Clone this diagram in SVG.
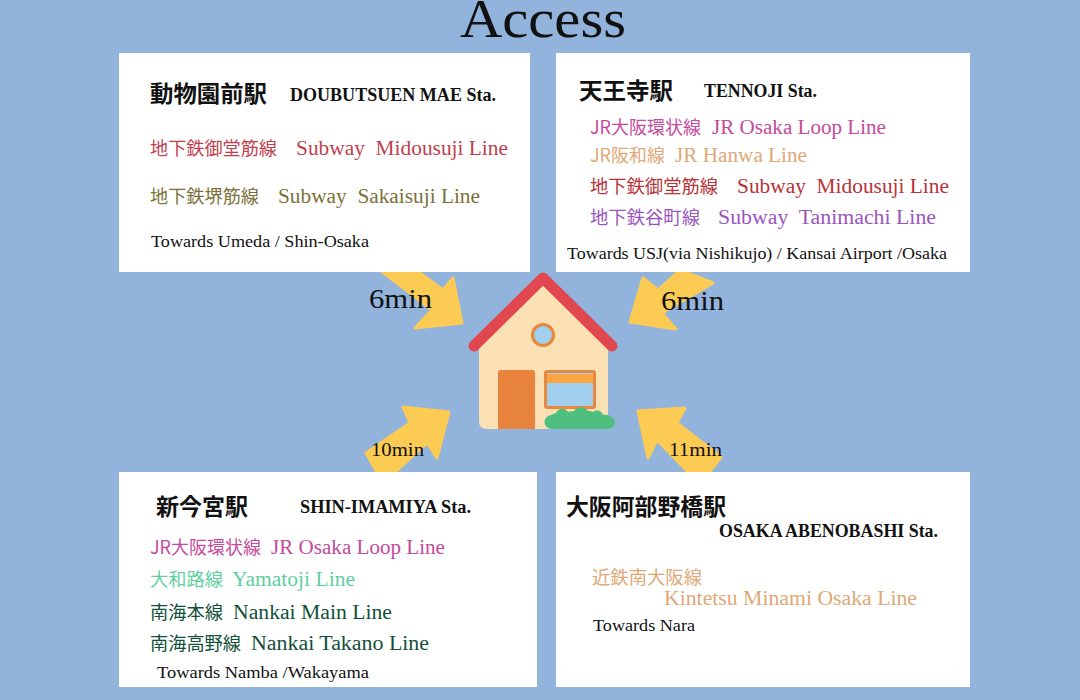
<svg xmlns="http://www.w3.org/2000/svg" width="1080" height="700" viewBox="0 0 1080 700">
<style>
text{font-family:"Liberation Serif","Noto Sans CJK JP",serif;fill:#111}
.jp{font-family:"Noto Sans CJK JP",sans-serif;font-size:18px;transform:translateX(-1px)}
.en{font-size:20px}
.hj{font-family:"Noto Sans CJK JP",sans-serif;font-size:23px;font-weight:700;transform:translateX(-1px)}
.he{font-size:18px;font-weight:700}
.to{font-size:16px}
.card{fill:#fff}
.arrow{fill:#fccb54;stroke:#fccb54;stroke-width:3;stroke-linejoin:round}
.red{fill:#bf3f50}.ol{fill:#7a7238}.pk{fill:#c44a9c}.or{fill:#e0a877}.rd{fill:#b83238}.pu{fill:#9a55bd}.gn{fill:#5fcfa0}.dg{fill:#12503a}
</style>
<rect width="1080" height="700" fill="#92b4dc"/>
<g id="connectors">
<polygon class="arrow" points="380,270 416,270 443,290 453,278 462,323 415,328 432,310"/>
<polygon class="arrow" points="680,270 713,283 662,313 676,329 630,322 643,278 658,290"/>
<polygon class="arrow" points="449,412 403,407 410,423 366,453 378,474 393,474 427,443 437,458"/>
<polygon class="arrow" points="638,411 685,408 677,423 721,457 708,474 690,474 657,440 648,458"/>
</g>
<g id="house">
<path d="M479 335L543 285L608 335V422a7 7 0 0 1-7 7H486a7 7 0 0 1-7-7Z" fill="#fae0b2"/>
<path d="M474 346L543 278L612 346" fill="none" stroke="#e0474f" stroke-width="11" stroke-linecap="round" stroke-linejoin="round"/>
<circle cx="543" cy="335" r="10.5" fill="#a2cfee" stroke="#e8883f" stroke-width="3"/>
<path d="M498 373a3 3 0 0 1 3-3h31a3 3 0 0 1 3 3v56h-37Z" fill="#e8833c"/>
<rect x="544" y="370" width="52" height="39" rx="3" fill="#e8883f"/>
<rect x="547" y="373" width="46" height="33" fill="#a2cfee"/>
<rect x="547" y="374" width="46" height="9" fill="#f9a544"/>
<path d="M552 429a7 7 0 0 1-1-14c2-1 4-2 5-2c2-5 9-6 12-1c3-1 5-1 6-1c3-5 11-5 14 0c2 0 4 0 5 1c4-3 9-1 10 3c8-1 12 4 12 7c0 4-3 7-7 7Z" fill="#4fbf7f"/>
</g>
<g id="station-doubutsuen">
<rect class="card" x="119" y="53" width="411" height="219"/>
<text class="hj" x="151" y="102" textLength="117" lengthAdjust="spacingAndGlyphs">動物園前駅</text>
<text class="he" x="290" y="101" textLength="206" lengthAdjust="spacingAndGlyphs">DOUBUTSUEN MAE Sta.</text>
<text class="jp red" x="151" y="155" textLength="127" lengthAdjust="spacingAndGlyphs">地下鉄御堂筋線</text>
<text class="en red" x="296" y="155" textLength="212" lengthAdjust="spacingAndGlyphs" xml:space="preserve">Subway  Midousuji Line</text>
<text class="jp ol" x="151" y="203" textLength="109" lengthAdjust="spacingAndGlyphs">地下鉄堺筋線</text>
<text class="en ol" x="278" y="203" textLength="202" lengthAdjust="spacingAndGlyphs" xml:space="preserve">Subway  Sakaisuji Line</text>
<text class="to" x="151" y="247" textLength="218" lengthAdjust="spacingAndGlyphs">Towards Umeda / Shin-Osaka</text>
</g>
<g id="station-tennoji">
<rect class="card" x="556" y="53" width="414" height="219"/>
<text class="hj" x="580" y="99" textLength="94" lengthAdjust="spacingAndGlyphs">天王寺駅</text>
<text class="he" x="704" y="97" textLength="113" lengthAdjust="spacingAndGlyphs">TENNOJI Sta.</text>
<text class="jp pk" x="591" y="134" textLength="111" lengthAdjust="spacingAndGlyphs">JR大阪環状線</text>
<text class="en pk" x="712" y="134" textLength="174" lengthAdjust="spacingAndGlyphs">JR Osaka Loop Line</text>
<text class="jp or" x="591" y="162" textLength="75" lengthAdjust="spacingAndGlyphs">JR阪和線</text>
<text class="en or" x="675" y="162" textLength="132" lengthAdjust="spacingAndGlyphs">JR Hanwa Line</text>
<text class="jp rd" x="591" y="193" textLength="128" lengthAdjust="spacingAndGlyphs">地下鉄御堂筋線</text>
<text class="en rd" x="737" y="193" textLength="212" lengthAdjust="spacingAndGlyphs" xml:space="preserve">Subway  Midousuji Line</text>
<text class="jp pu" x="591" y="224" textLength="110" lengthAdjust="spacingAndGlyphs">地下鉄谷町線</text>
<text class="en pu" x="718" y="224" textLength="218" lengthAdjust="spacingAndGlyphs" xml:space="preserve">Subway  Tanimachi Line</text>
<text class="to" x="567" y="259" textLength="380" lengthAdjust="spacingAndGlyphs">Towards USJ(via Nishikujo) / Kansai Airport /Osaka</text>
</g>
<g id="station-shin-imamiya">
<rect class="card" x="119" y="472" width="418" height="215"/>
<text class="hj" x="157" y="515" textLength="92" lengthAdjust="spacingAndGlyphs">新今宮駅</text>
<text class="he" x="300" y="513" textLength="171" lengthAdjust="spacingAndGlyphs">SHIN-IMAMIYA Sta.</text>
<text class="jp pk" x="151" y="554" textLength="111" lengthAdjust="spacingAndGlyphs">JR大阪環状線</text>
<text class="en pk" x="271" y="554" textLength="174" lengthAdjust="spacingAndGlyphs">JR Osaka Loop Line</text>
<text class="jp gn" x="151" y="586" textLength="73" lengthAdjust="spacingAndGlyphs">大和路線</text>
<text class="en gn" x="232" y="586" textLength="123" lengthAdjust="spacingAndGlyphs">Yamatoji Line</text>
<text class="jp dg" x="151" y="619" textLength="73" lengthAdjust="spacingAndGlyphs">南海本線</text>
<text class="en dg" x="233" y="619" textLength="159" lengthAdjust="spacingAndGlyphs">Nankai Main Line</text>
<text class="jp dg" x="151" y="650" textLength="91" lengthAdjust="spacingAndGlyphs">南海高野線</text>
<text class="en dg" x="251" y="650" textLength="178" lengthAdjust="spacingAndGlyphs">Nankai Takano Line</text>
<text class="to" x="157" y="678" textLength="212" lengthAdjust="spacingAndGlyphs">Towards Namba /Wakayama</text>
</g>
<g id="station-abenobashi">
<rect class="card" x="556" y="472" width="414" height="215"/>
<text class="hj" x="567" y="515" textLength="160" lengthAdjust="spacingAndGlyphs">大阪阿部野橋駅</text>
<text class="he" x="719" y="537" textLength="219" lengthAdjust="spacingAndGlyphs">OSAKA ABENOBASHI Sta.</text>
<text class="jp or" x="593" y="584" textLength="110" lengthAdjust="spacingAndGlyphs">近鉄南大阪線</text>
<text class="en or" x="664" y="605" textLength="253" lengthAdjust="spacingAndGlyphs">Kintetsu Minami Osaka Line</text>
<text class="to" x="593" y="631" textLength="102" lengthAdjust="spacingAndGlyphs">Towards Nara</text>
</g>
<g id="labels">
<text x="460" y="37" font-size="55" textLength="166" lengthAdjust="spacingAndGlyphs">Access</text>
<text x="369" y="308" font-size="28" textLength="63" lengthAdjust="spacingAndGlyphs">6min</text>
<text x="661" y="310" font-size="28" textLength="63" lengthAdjust="spacingAndGlyphs">6min</text>
<text x="371" y="456" font-size="19" textLength="53" lengthAdjust="spacingAndGlyphs">10min</text>
<text x="669" y="456" font-size="19" textLength="53" lengthAdjust="spacingAndGlyphs">11min</text>
</g>
</svg>
